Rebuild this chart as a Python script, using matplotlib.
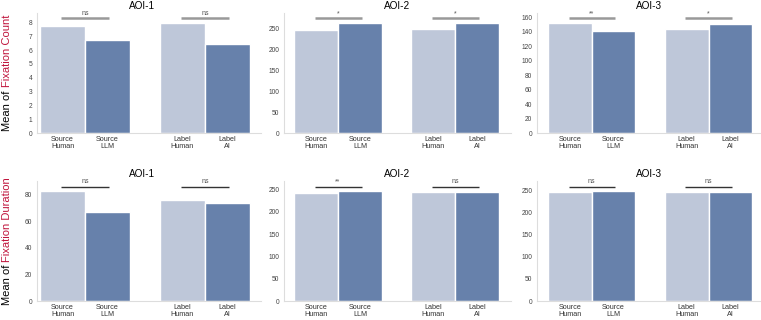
import numpy as np
import matplotlib
matplotlib.use("Agg")
import matplotlib.pyplot as plt
from matplotlib.ticker import MultipleLocator

plt.rcParams['font.family'] = ['Liberation Sans', 'DejaVu Sans']

# data
bar_labels = ["Source\nHuman", "Source\nLLM", "Label\nHuman", "Label\nAI"]
aoi_names = ["AOI-1", "AOI-2", "AOI-3"]

count_aoi1 = [7.71, 6.69, 7.98, 6.45]
count_aoi2 = [247, 265, 249, 263]
count_aoi3 = [152.5, 141.3, 143.3, 151.0]
count_sig = [["ns", "ns"], ["*", "*"], ["**", "*"]]
count_steps = [1, 50, 20]

duration_aoi1 = [83.0, 67.1, 76.2, 74.2]
duration_aoi2 = [241.7, 247.0, 245.5, 244.0]
duration_aoi3 = [247.0, 248.6, 247.0, 247.0]
duration_sig = [["ns", "ns"], ["**", "ns"], ["ns", "ns"]]
duration_steps = [20, 50, 50]

# styling / layout
light = "#BEC7D9"
dark = "#6781AB"
xpos = [0, 1, 2.67, 3.67]
W, H = 761, 320
col_px = [(37, 261), (284, 511), (537, 761)]
row_px = [(12.7, 133), (181, 301)]
xlims = [(-0.57, 4.42), (-0.73, 4.44), (-0.75, 4.37)]
title_x = [0.47, 0.5, 0.5]

fig = plt.figure(figsize=(W / 100, H / 100), dpi=100)

rows = [
    ([count_aoi1, count_aoi2, count_aoi3], count_sig, count_steps, "#999999", 1.8, "Fixation Count"),
    ([duration_aoi1, duration_aoi2, duration_aoi3], duration_sig, duration_steps, "#333333", 1.0, "Fixation Duration"),
]

for r, (vals_list, sigs, steps, sigcol, siglw, measure) in enumerate(rows):
    top, bot = row_px[r]
    for c in range(3):
        l, rr = col_px[c]
        ax = fig.add_axes([l / W, (H - bot) / H, (rr - l) / W, (bot - top) / H])
        vals = vals_list[c]
        ax.bar(xpos, vals, width=1.0, color=[light, dark, light, dark],
               edgecolor="white", linewidth=1.0)
        vmax = max(vals)
        ax.set_ylim(0, vmax * 1.09)
        ax.set_xlim(*xlims[c])
        ax.yaxis.set_major_locator(MultipleLocator(steps[c]))
        ax.set_xticks(xpos)
        ax.set_xticklabels(bar_labels, fontsize=5.2, color="#333333", linespacing=1.0)
        ax.tick_params(axis="y", labelsize=4.8, labelcolor="#444444", length=0, pad=3.4)
        ax.tick_params(axis="x", length=0, pad=2.5)
        for s in ["top", "right"]:
            ax.spines[s].set_visible(False)
        for s in ["left", "bottom"]:
            ax.spines[s].set_color("#DDDDDD")
            ax.spines[s].set_linewidth(0.8)
        ax.set_title(aoi_names[c], fontsize=7.2, x=title_x[c], pad=3)

        # significance brackets
        ly = vmax * 1.04
        for g in range(2):
            x0, x1 = xpos[2 * g], xpos[2 * g + 1]
            ax.plot([x0 - 0.03, x1 + 0.04], [ly, ly], color=sigcol, lw=siglw,
                    solid_capstyle="butt")
            ax.text((x0 + x1) / 2, ly + vmax * 0.01, sigs[c][g], ha="center",
                    va="bottom", fontsize=5, color="#555555")

    # two-colour y label
    renderer = fig.canvas.get_renderer()
    parts = [("Mean of ", "black"), (measure, "#C0143C")]
    texts = [fig.text(7.5 / W, 0, s, color=col, rotation=90, ha="center",
                      va="bottom", fontsize=8) for s, col in parts]
    heights = [t.get_window_extent(renderer).height for t in texts]
    y = (H - (top + bot) / 2) - sum(heights) / 2
    for t, h in zip(texts, heights):
        t.set_position((7.5 / W, y / H))
        y += h

fig.savefig("out.png", dpi=100)
